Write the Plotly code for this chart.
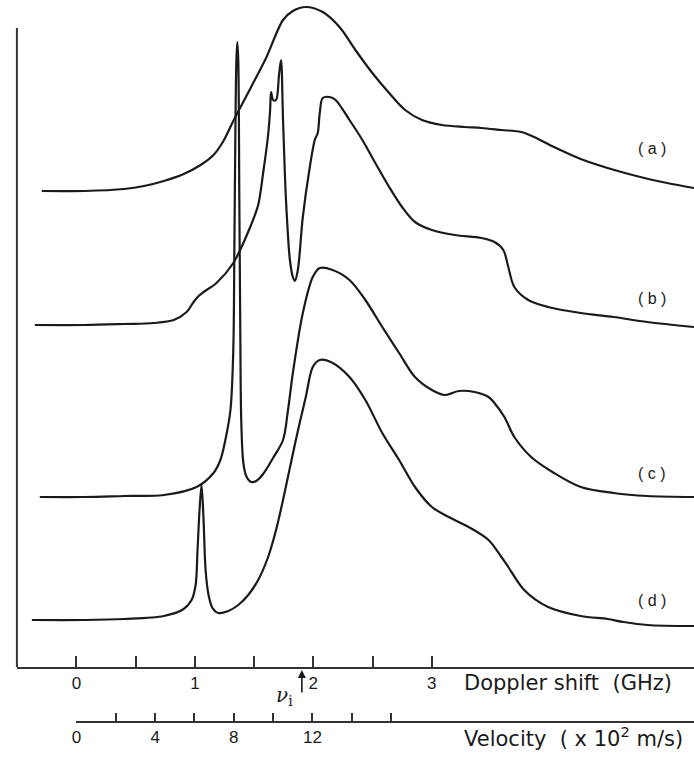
import plotly.graph_objects as go

# Doppler shift (GHz) and signal (arb. units, offset per trace)
ghz_a = [-0.293, 0.067, 0.402, 0.570, 0.738, 0.905, 1.048, 1.157, 1.241, 1.324, 1.408, 1.492, 1.601,
         1.744, 1.827, 1.936, 2.079, 2.221, 2.355, 2.498, 2.640, 2.775, 2.917, 3.085, 3.277, 3.420,
         3.588, 3.755, 3.864, 4.032, 4.258, 4.484, 4.761, 4.987, 5.214]
sig_a = [476, 476, 478, 481, 486, 493, 502, 512, 526, 546, 565, 584, 609,
         647, 656, 660, 655, 640, 617, 594, 574, 557, 547, 542, 540, 539,
         537, 535, 530, 520, 508, 499, 490, 484, 479]

ghz_b = [-0.352, 0.067, 0.402, 0.654, 0.821, 0.930, 0.989, 1.031, 1.073, 1.182, 1.324, 1.467, 1.534,
         1.576, 1.618, 1.635, 1.643, 1.660, 1.685, 1.710, 1.727, 1.744, 1.769, 1.802, 1.827, 1.844,
         1.869, 1.911, 1.970, 2.012, 2.037, 2.054, 2.079, 2.137, 2.188, 2.305, 2.414, 2.523, 2.640,
         2.749, 2.858, 3.001, 3.194, 3.420, 3.529, 3.604, 3.646, 3.697, 3.814, 3.982, 4.258, 4.535,
         4.820, 5.214]
sig_b = [342, 342, 343, 344, 347, 355, 365, 371, 375, 384, 404, 440, 462,
         494, 532, 557, 575, 567, 567, 592, 607, 547, 467, 407, 390, 386,
         397, 450, 500, 527, 534, 554, 569, 570, 567, 547, 527, 504, 480,
         460, 445, 437, 432, 429, 425, 417, 400, 380, 367, 360, 354, 350,
         345, 340]

ghz_c = [-0.310, 0.067, 0.402, 0.738, 1.014, 1.157, 1.215, 1.257, 1.300, 1.324, 1.333, 1.341, 1.350,
         1.358, 1.366, 1.375, 1.383, 1.391, 1.408, 1.433, 1.475, 1.517, 1.576, 1.660, 1.744, 1.786,
         1.827, 1.911, 1.995, 2.054, 2.163, 2.305, 2.439, 2.582, 2.724, 2.858, 3.001, 3.110, 3.227,
         3.361, 3.479, 3.529, 3.613, 3.697, 3.839, 4.032, 4.258, 4.535, 4.820, 5.214]
sig_c = [170, 170, 171, 172, 180, 194, 207, 227, 257, 317, 417, 527, 607,
         625, 607, 467, 337, 247, 205, 191, 185, 186, 193, 209, 227, 257,
         294, 354, 390, 399, 397, 387, 367, 340, 314, 290, 277, 272, 276,
         275, 270, 264, 250, 230, 210, 194, 180, 174, 171, 170]

ghz_d = [-0.377, 0.067, 0.402, 0.738, 0.905, 0.972, 1.006, 1.022, 1.039, 1.056, 1.073, 1.090, 1.115,
         1.148, 1.198, 1.282, 1.366, 1.450, 1.534, 1.618, 1.685, 1.744, 1.852, 1.936, 1.995, 2.054,
         2.163, 2.305, 2.439, 2.582, 2.724, 2.858, 3.001, 3.143, 3.311, 3.479, 3.588, 3.646, 3.780,
         3.982, 4.258, 4.484, 4.619, 4.820, 5.214]
sig_d = [47, 47, 48, 51, 58, 67, 82, 117, 157, 182, 147, 97, 72,
         59, 54, 56, 62, 72, 87, 110, 137, 167, 227, 270, 300, 307,
         304, 290, 267, 234, 207, 180, 160, 150, 140, 127, 110, 100, 77,
         60, 51, 48, 45, 42, 41]

curve_names = ["( a )", "( b )", "( c )", "( d )"]
label_sig = [519, 369, 194, 67]
label_ghz = 4.86

ghz_ticks = [0, 0.5, 1, 1.5, 2, 2.5, 3]
ghz_ticktext = ["0", "", "1", "", "2", "", "3"]
vel_ticks = [0, 2, 4, 6, 8, 10, 12, 14, 16]
vel_ticktext = ["0", "", "4", "", "8", "", "12", "", ""]
nu_i_ghz = 1.903

FONT = "Liberation Sans"
TFONT = "DejaVu Sans"
INK = "#1a1a1a"

fig = go.Figure()
for xs, ys in [(ghz_a, sig_a), (ghz_b, sig_b), (ghz_c, sig_c), (ghz_d, sig_d)]:
    fig.add_trace(go.Scatter(x=xs, y=ys, mode="lines",
                             line=dict(color=INK, width=2.2, shape="spline", smoothing=0.9),
                             showlegend=False, hoverinfo="skip"))
# dummy trace to realise the velocity axis
fig.add_trace(go.Scatter(x=[None], y=[None], xaxis="x2", yaxis="y", showlegend=False,
                         hoverinfo="skip"))

for name, s in zip(curve_names, label_sig):
    fig.add_annotation(x=label_ghz, y=s, text=name, showarrow=False,
                       font=dict(family=FONT, size=16, color=INK), xref="x", yref="y")

fig.add_annotation(x=nu_i_ghz, y=0.1355, xref="x", yref="paper", text="", showarrow=True,
                   arrowhead=2, arrowsize=1, arrowwidth=1.6, arrowcolor=INK, ax=0, ay=24)
fig.add_annotation(x=1.76, y=0.082, xref="x", yref="paper", text="<i>ν</i><sub>i</sub>",
                   showarrow=False, font=dict(family="DejaVu Serif", size=20, color=INK))
fig.add_annotation(x=0.663, y=0.101, xref="paper", yref="paper", xanchor="left",
                   text="Doppler shift  (GHz)",
                   showarrow=False, font=dict(family=TFONT, size=21, color=INK))
fig.add_annotation(x=0.663, y=0.029, xref="paper", yref="paper", xanchor="left",
                   text="Velocity  ( x 10<sup>2</sup> m/s)",
                   showarrow=False, font=dict(family=TFONT, size=21, color=INK))

# left vertical frame line
fig.add_shape(type="line", xref="paper", yref="paper", x0=12/694, x1=12/694, y0=0.1394, y1=0.9639,
              line=dict(color="#333", width=2))

fig.update_layout(
    width=694, height=775, margin=dict(l=0, r=0, t=0, b=0),
    paper_bgcolor="white", plot_bgcolor="rgba(0,0,0,0)",
    xaxis=dict(domain=[12/694, 1], range=[-0.503, 5.214], showgrid=False, zeroline=False,
               showline=True, linecolor="#333", linewidth=2,
               tickmode="array", tickvals=ghz_ticks, ticktext=ghz_ticktext,
               ticks="inside", ticklen=11, tickwidth=1.5, tickcolor="#333",
               tickfont=dict(family=FONT, size=17, color=INK)),
    xaxis2=dict(domain=[72/694, 1], range=[0, 31.41], anchor="free", position=0.0684,
                showgrid=False, zeroline=False, showline=True, linecolor="#333", linewidth=2,
                tickmode="array", tickvals=vel_ticks, ticktext=vel_ticktext,
                ticks="inside", ticklen=8, tickwidth=1.5, tickcolor="#333",
                tickfont=dict(family=FONT, size=17, color=INK)),
    yaxis=dict(domain=[0.13935, 1], range=[0, 667], showgrid=False, zeroline=False,
               showline=False, showticklabels=False, ticks=""),
)

fig.write_html("out.html")
